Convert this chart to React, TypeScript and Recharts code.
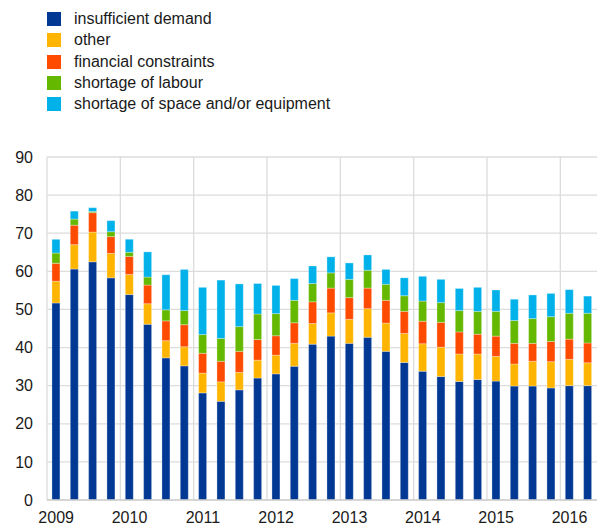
import React from 'react';
import { BarChart, Bar, XAxis, YAxis, CartesianGrid } from 'recharts';

const quarters = [
    '2009Q1', '2009Q2', '2009Q3', '2009Q4',
    '2010Q1', '2010Q2', '2010Q3', '2010Q4',
    '2011Q1', '2011Q2', '2011Q3', '2011Q4',
    '2012Q1', '2012Q2', '2012Q3', '2012Q4',
    '2013Q1', '2013Q2', '2013Q3', '2013Q4',
    '2014Q1', '2014Q2', '2014Q3', '2014Q4',
    '2015Q1', '2015Q2', '2015Q3', '2015Q4',
    '2016Q1', '2016Q2'
];

const insufficientDemand = [
    51.7, 60.6, 62.5, 58.3, 53.9, 46.1, 37.3, 35.2, 28.1, 25.9,
    28.9, 32.0, 33.1, 35.1, 40.9, 43.0, 41.1, 42.7, 39.0, 36.1,
    33.8, 32.4, 31.1, 31.6, 31.2, 29.9, 29.9, 29.4, 30.0, 30.0
];
const other = [
    5.7, 6.4, 7.8, 6.4, 5.3, 5.4, 4.5, 5.0, 5.2, 5.1,
    4.6, 4.7, 4.9, 6.0, 5.4, 6.1, 6.3, 7.5, 7.4, 7.6,
    7.2, 7.7, 7.2, 6.7, 6.5, 5.8, 6.5, 6.9, 6.9, 6.0
];
const financialConstraints = [
    4.7, 5.1, 5.1, 4.4, 4.7, 4.9, 5.2, 5.8, 5.2, 5.4,
    5.5, 5.4, 5.1, 5.4, 5.7, 6.5, 5.7, 5.4, 6.0, 5.8,
    5.9, 6.5, 5.8, 5.2, 5.3, 5.4, 4.7, 5.3, 5.3, 5.2
];
const shortageOfLabour = [
    2.7, 1.6, 0.3, 1.3, 1.1, 2.1, 2.9, 3.7, 4.9, 6.0,
    6.5, 6.7, 5.8, 5.9, 4.8, 4.0, 4.8, 4.7, 4.2, 4.1,
    5.3, 5.2, 5.6, 6.0, 6.5, 6.0, 6.5, 6.5, 6.8, 7.8
];
const shortageOfSpace = [
    3.6, 2.1, 1.0, 2.9, 3.4, 6.6, 9.2, 10.8, 12.4, 15.3,
    11.2, 8.0, 7.4, 5.7, 4.6, 4.2, 4.3, 4.0, 3.9, 4.7,
    6.5, 6.1, 5.8, 6.3, 5.6, 5.6, 6.2, 6.1, 6.2, 4.5
];

const yTicks = [0, 10, 20, 30, 40, 50, 60, 70, 80, 90];

const series = [
    { key: 'demand', name: 'insufficient demand', color: '#003894' },
    { key: 'other', name: 'other', color: '#FFB400' },
    { key: 'financial', name: 'financial constraints', color: '#FF4B00' },
    { key: 'labour', name: 'shortage of labour', color: '#65B800' },
    { key: 'space', name: 'shortage of space and/or equipment', color: '#00B1EA' }
];

const data = quarters.map((q, i) => ({
    q,
    demand: insufficientDemand[i],
    other: other[i],
    financial: financialConstraints[i],
    labour: shortageOfLabour[i],
    space: shortageOfSpace[i]
}));

// year boundaries sit on the left edge of each Q1 slot
const yearStarts = quarters
    .map((q, i) => (q.endsWith('Q1') ? i : -1))
    .filter(i => i >= 0);

const FONT = '"Liberation Sans", Arial, sans-serif';

export default function App() {
    return (
        <div style={{ position: 'absolute', left: 0, top: 0, width: 597, height: 524, fontFamily: FONT, background: '#fff' }}>
            <div style={{ position: 'absolute', left: 47, top: 12 }}>
                {series.map(s => (
                    <div key={s.key} style={{ display: 'flex', alignItems: 'center', height: 14, marginBottom: 7.25 }}>
                        <span style={{ width: 14, height: 14, background: s.color, display: 'inline-block' }} />
                        <span style={{ marginLeft: 13, fontSize: 16, color: '#1a1a1a', lineHeight: '14px' }}>{s.name}</span>
                    </div>
                ))}
            </div>

            <BarChart
                width={597}
                height={524}
                data={data}
                margin={{ top: 157, right: 0, bottom: 0, left: 0 }}
                barCategoryGap="27%"
                style={{ position: 'absolute', left: 0, top: 0 }}
            >
                <CartesianGrid
                    stroke="#dcdcdc"
                    strokeWidth={1.3}
                    verticalCoordinatesGenerator={({ offset }: any) =>
                        yearStarts.map(i => offset.left + (i * offset.width) / quarters.length)
                    }
                />
                <XAxis
                    dataKey="q"
                    interval={0}
                    height={24}
                    axisLine={{ stroke: '#cfcfcf', strokeWidth: 1.3 }}
                    tickLine={false}
                    tickMargin={6}
                    tick={{ fill: '#1a1a1a', fontSize: 16, fontFamily: FONT }}
                    tickFormatter={(v: string) => (v.endsWith('Q1') ? v.slice(0, 4) : '')}
                />
                <YAxis
                    width={47}
                    domain={[0, 90]}
                    ticks={yTicks}
                    interval={0}
                    axisLine={false}
                    tickLine={false}
                    tickMargin={8}
                    tick={{ fill: '#1a1a1a', fontSize: 16, fontFamily: FONT }}
                />
                {series.map(s => (
                    <Bar
                        key={s.key}
                        dataKey={s.key}
                        name={s.name}
                        stackId="a"
                        fill={s.color}
                        stroke="#ffffff"
                        strokeOpacity={0.3}
                        strokeWidth={1}
                        isAnimationActive={false}
                    />
                ))}
            </BarChart>
        </div>
    );
}
